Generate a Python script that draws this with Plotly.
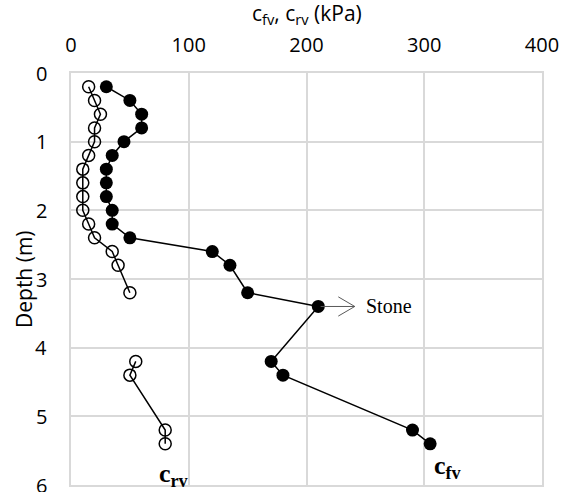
import plotly.graph_objects as go

depth_fv = [0.2, 0.4, 0.6, 0.8, 1.0, 1.2, 1.4, 1.6, 1.8, 2.0, 2.2, 2.4, 2.6, 2.8, 3.2, 3.4, 4.2, 4.4, 5.2, 5.4]
cfv = [30, 50, 60, 60, 45, 35, 30, 30, 30, 35, 35, 50, 120, 135, 150, 210, 170, 180, 290, 305]

depth_rv = [0.2, 0.4, 0.6, 0.8, 1.0, 1.2, 1.4, 1.6, 1.8, 2.0, 2.2, 2.4, 2.6, 2.8, 3.2, None, 4.2, 4.4, 5.2, 5.4]
crv = [15, 20, 25, 20, 20, 15, 10, 10, 10, 10, 15, 20, 35, 40, 50, None, 55, 50, 80, 80]

x_ticks = [0, 100, 200, 300, 400]
y_ticks = [0, 1, 2, 3, 4, 5, 6]

GRID = "#d9d9d9"
TICKFONT = dict(family="Open Sans, sans-serif", size=20, color="#000000")
TITLEFONT = dict(family="Open Sans, sans-serif", size=21, color="#000000")
SERIF = "Liberation Serif, Times New Roman, serif"
NOTICK = "rgba(0,0,0,0)"

fig = go.Figure()
fig.add_trace(go.Scatter(
    x=crv, y=depth_rv, mode="lines+markers", connectgaps=False,
    line=dict(color="black", width=1.5),
    marker=dict(symbol="circle-open", size=12, color="black", line=dict(width=1.5, color="black")),
    showlegend=False, cliponaxis=False,
))
fig.add_trace(go.Scatter(
    x=cfv, y=depth_fv, mode="lines+markers",
    line=dict(color="black", width=1.5),
    marker=dict(symbol="circle", size=13, color="black"),
    showlegend=False, cliponaxis=False,
))

# Stone arrow (open chevron)
fig.add_shape(type="path", xref="x", yref="y",
              path="M 212,3.4 L 241,3.4 M 227,3.26 L 241,3.4 L 227,3.54",
              line=dict(color="#595959", width=1))

fig.add_annotation(x=249, y=3.4, xref="x", yref="y", text="Stone", showarrow=False,
                   xanchor="left", yanchor="middle",
                   font=dict(family=SERIF, size=20, color="black"))
fig.add_annotation(x=73, y=5.85, xref="x", yref="y", text="<b>c<sub>rv</sub></b>", showarrow=False,
                   xanchor="left", yanchor="middle",
                   font=dict(family=SERIF, size=26, color="black"))
fig.add_annotation(x=307, y=5.74, xref="x", yref="y", text="<b>c<sub>fv</sub></b>", showarrow=False,
                   xanchor="left", yanchor="middle",
                   font=dict(family=SERIF, size=26, color="black"))

# y tick labels (placed on the y scale)
for v in y_ticks:
    fig.add_annotation(x=-0.046, y=v, xref="paper", yref="y", text=str(v), showarrow=False,
                       xanchor="right", yanchor="middle", font=TICKFONT)

# axis titles
fig.add_annotation(x=0.5, y=1.143, xref="paper", yref="paper",
                   text="c<sub>fv</sub>, c<sub>rv</sub> (kPa)", showarrow=False,
                   xanchor="center", yanchor="middle", font=TITLEFONT)
fig.add_annotation(x=-0.0998, y=0.5, xref="paper", yref="paper",
                   text="Depth (m)", showarrow=False, textangle=-90,
                   xanchor="center", yanchor="middle", font=TITLEFONT)

fig.update_layout(
    width=571, height=492,
    margin=dict(l=71, r=29, t=73, b=5),
    paper_bgcolor="white", plot_bgcolor="white",
    xaxis=dict(
        side="top", range=[0, 400], tickvals=x_ticks,
        showgrid=True, gridcolor=GRID, gridwidth=1.5,
        zeroline=False, showline=True, mirror=True, linecolor=GRID, linewidth=1.5,
        tickfont=TICKFONT, ticks="outside", ticklen=11, tickcolor=NOTICK,
    ),
    yaxis=dict(
        range=[6, 0], tickvals=y_ticks, showticklabels=False,
        showgrid=True, gridcolor=GRID, gridwidth=1.5,
        zeroline=False, showline=True, mirror=True, linecolor=GRID, linewidth=1.5,
    ),
)

fig.write_html("out.html", config={"displayModeBar": False},
               post_script="document.body.style.margin='0';document.body.style.padding='0';")
